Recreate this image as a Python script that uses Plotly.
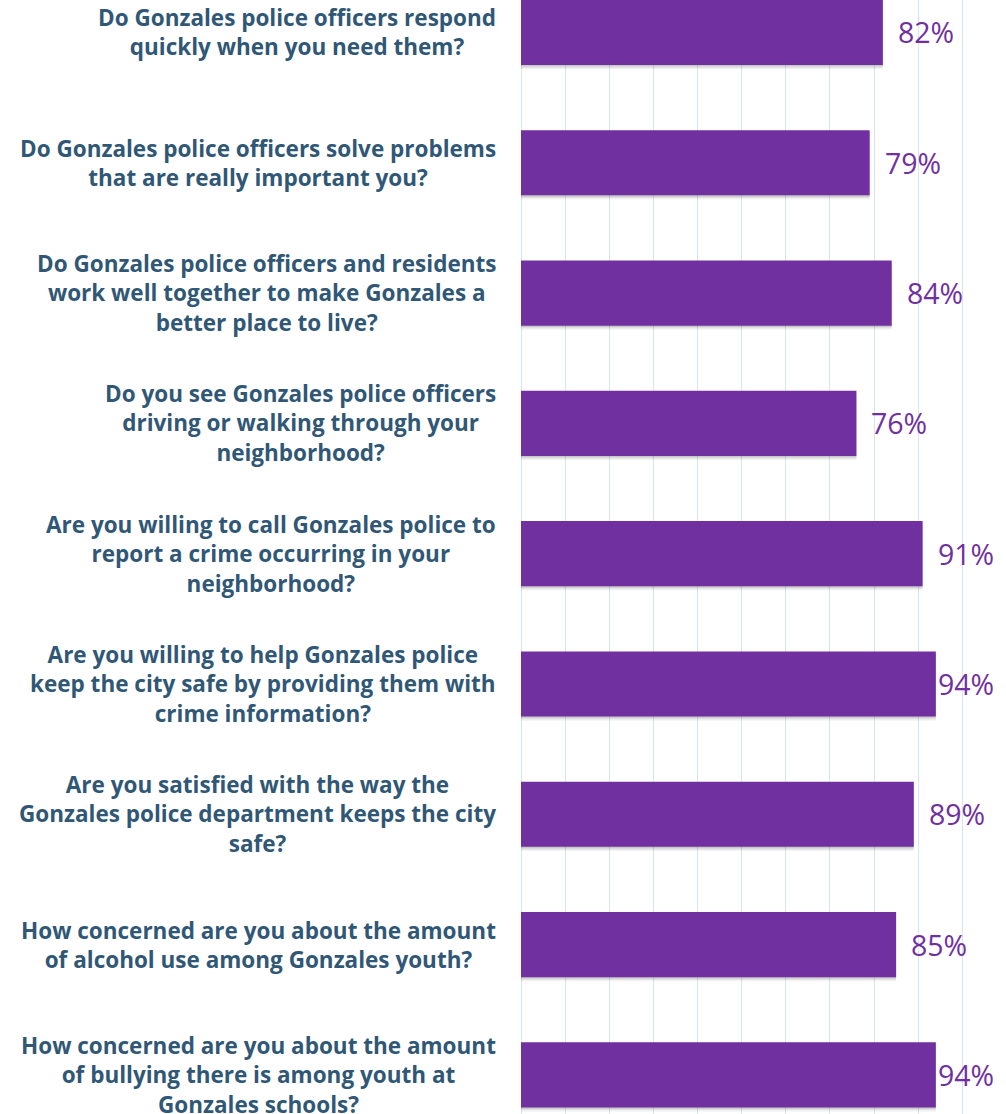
import plotly.graph_objects as go

questions = [
    "Do Gonzales police officers respond<br>quickly when you need them?",
    "Do Gonzales police officers solve problems<br>that are really important you?",
    "Do Gonzales police officers and residents<br>work well together to make Gonzales a<br>better place to live?",
    "Do you see Gonzales police officers<br>driving or walking through your<br>neighborhood?",
    "Are you willing to call Gonzales police to<br>report a crime occurring in your<br>neighborhood?",
    "Are you willing to help Gonzales police<br>keep the city safe by providing them with<br>crime information?",
    "Are you satisfied with the way the<br>Gonzales police department keeps the city<br>safe?",
    "How concerned are you about the amount<br>of alcohol use among Gonzales youth?",
    "How concerned are you about the amount<br>of bullying there is among youth at<br>Gonzales schools?",
]
values = [82, 79, 84, 76, 91, 94, 89, 85, 94]
value_labels = [f"{v}%" for v in values]

PURPLE = "#7030A0"
LABEL_COLOR = "#305876"
GRID = "#D8E4EE"
LABEL_CLAMP = 91  # value labels cannot run past the chart edge

cats = [f"q{i}" for i in range(len(questions))]

fig = go.Figure()
# soft drop shadow under the bars
for off, alpha in [(0.032, 0.05), (0.02, 0.08), (0.01, 0.10)]:
    fig.add_trace(go.Bar(
        x=values, y=cats, orientation="h",
        marker=dict(color=f"rgba(0,0,0,{alpha})", line=dict(width=0)),
        width=0.5, offset=-0.25 + off,
        hoverinfo="skip",
    ))
fig.add_trace(go.Bar(
    x=values, y=cats, orientation="h",
    marker=dict(color=PURPLE, line=dict(width=0)),
    width=0.5, offset=-0.25,
    hoverinfo="skip",
))

annotations = []
for c, q in zip(cats, questions):
    annotations.append(dict(
        x=0, xref="paper", xshift=-23, xanchor="right",
        y=c, yref="y", yanchor="middle",
        text=q, showarrow=False, align="center",
        font=dict(family="Open Sans", size=22.5, color=LABEL_COLOR, weight="bold"),
    ))
for c, v, t in zip(cats, values, value_labels):
    annotations.append(dict(
        x=min(v, LABEL_CLAMP), xref="x", xshift=13, xanchor="left",
        y=c, yref="y", yanchor="middle",
        text=t, showarrow=False,
        font=dict(family="Open Sans", size=28.5, color=PURPLE),
    ))

fig.update_layout(
    width=1006, height=1114,
    margin=dict(l=521, r=0, t=0, b=0),
    paper_bgcolor="white", plot_bgcolor="white",
    showlegend=False,
    barmode="overlay",
    annotations=annotations,
    xaxis=dict(range=[0, 109.9], dtick=10, showgrid=True, gridcolor=GRID, gridwidth=1.3,
               showticklabels=False, zeroline=True, zerolinecolor=GRID, zerolinewidth=1.3,
               showline=False, ticks=""),
    yaxis=dict(type="category", categoryorder="array", categoryarray=cats,
               range=[8.30, -0.249], showticklabels=False, showgrid=False,
               zeroline=False, showline=False, ticks=""),
)

fig.write_html("out.html", config={"displayModeBar": False},
               post_script="document.body.style.margin='0';")
